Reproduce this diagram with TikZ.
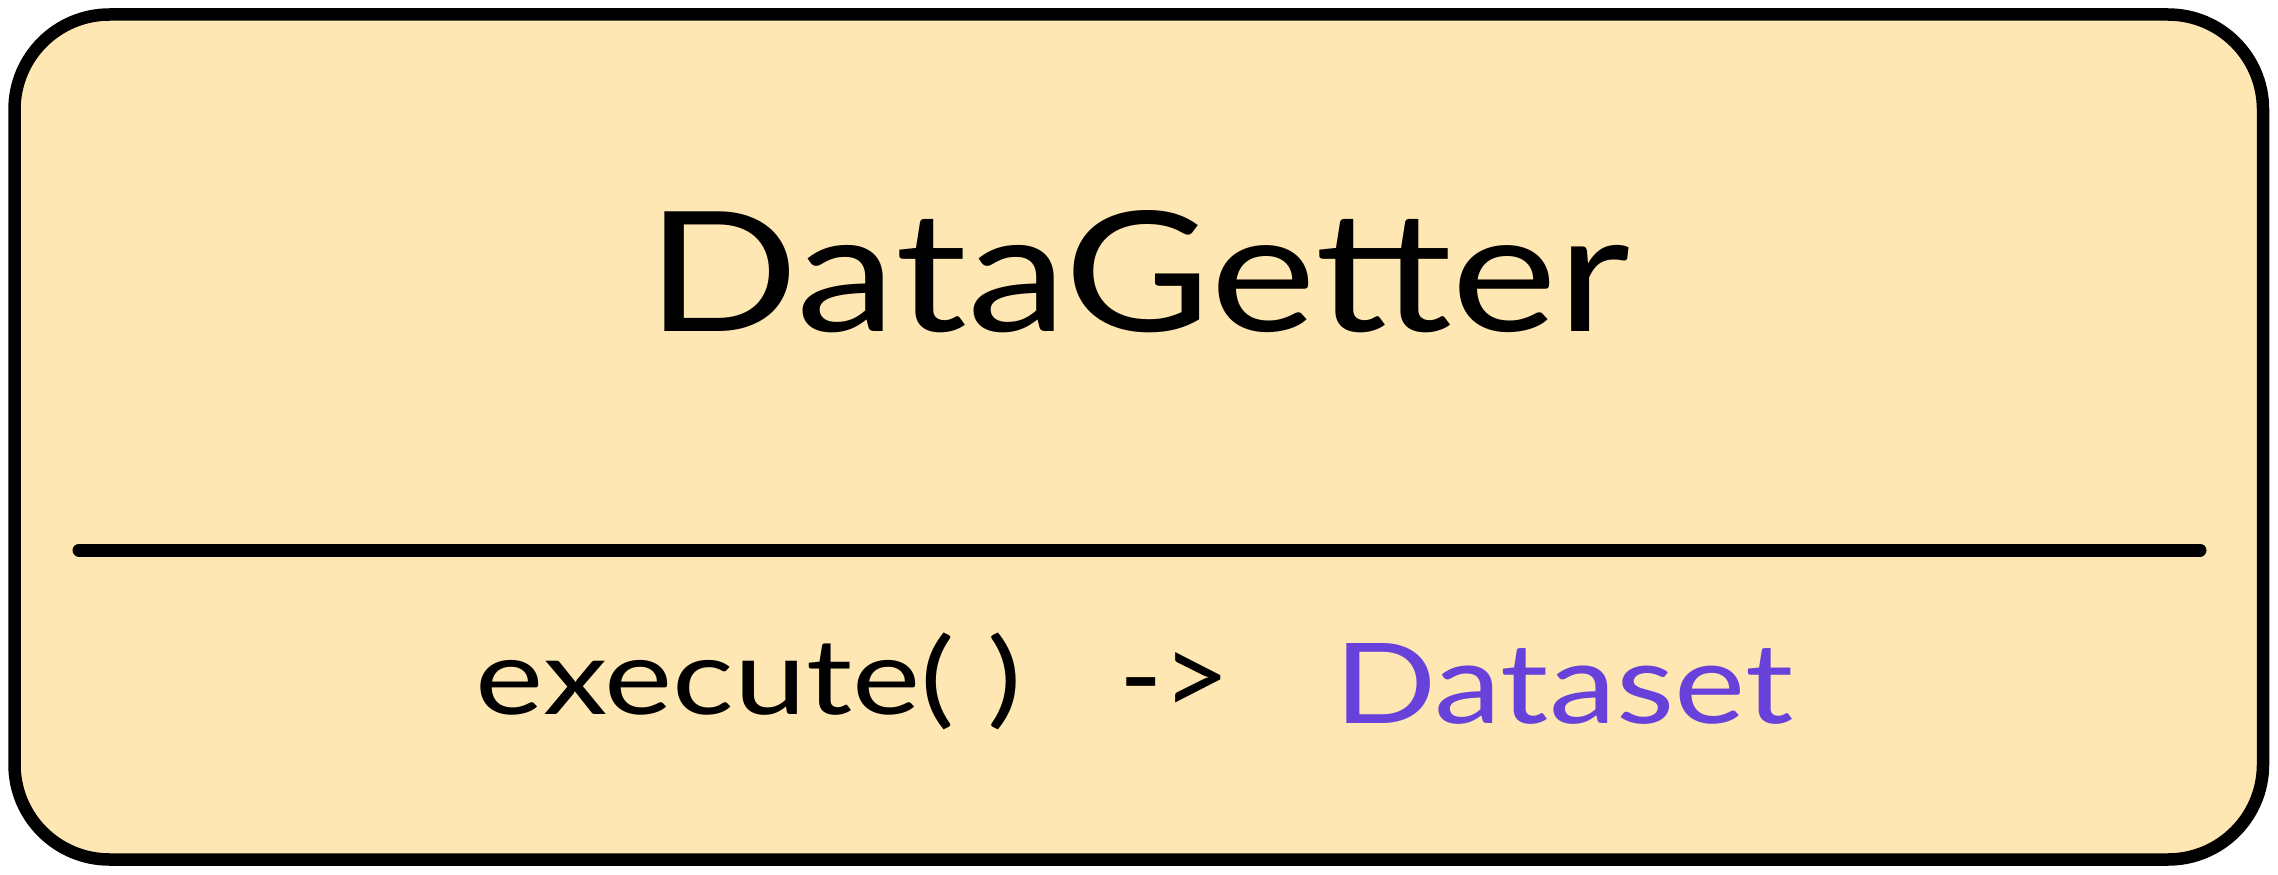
\documentclass[tikz,border=0pt]{standalone}
\usepackage{fontspec}
\setmainfont{Lato}
\usepackage{graphicx}
\definecolor{boxfill}{HTML}{FFE7B3}
\definecolor{violet}{HTML}{6741D9}
\tikzset{
  classbox/.style={draw=black, line width=12.5pt, fill=boxfill, rounded corners=95pt},
  divider/.style={draw=black, line width=13pt, line cap=round},
  txt/.style={inner sep=0pt, outer sep=0pt, anchor=center}
}
\begin{document}
\begin{tikzpicture}[x=1pt, y=-1pt]
  \useasboundingbox (0,0) rectangle (2278,875);
  \draw[classbox] (14.5,14.5) rectangle (2263,859.5);
  \coordinate (dl) at (79,550);
  \coordinate (dr) at (2200,550);
  \draw[divider] (dl) -- (dr);
  \node[txt] (title) at (1138.5,272) {\resizebox{983pt}{121pt}{DataGetter}};
  \node[txt] (meth) at (749,681.5) {\resizebox*{546pt}{97pt}{execute( )}};
  \node[txt] (arrow) at (1175,684) {\resizebox*{111pt}{64pt}{->}};
  \node[txt, text=violet] (ret) at (1563.5,684) {\resizebox{459pt}{80pt}{Dataset}};
\end{tikzpicture}
\end{document}
